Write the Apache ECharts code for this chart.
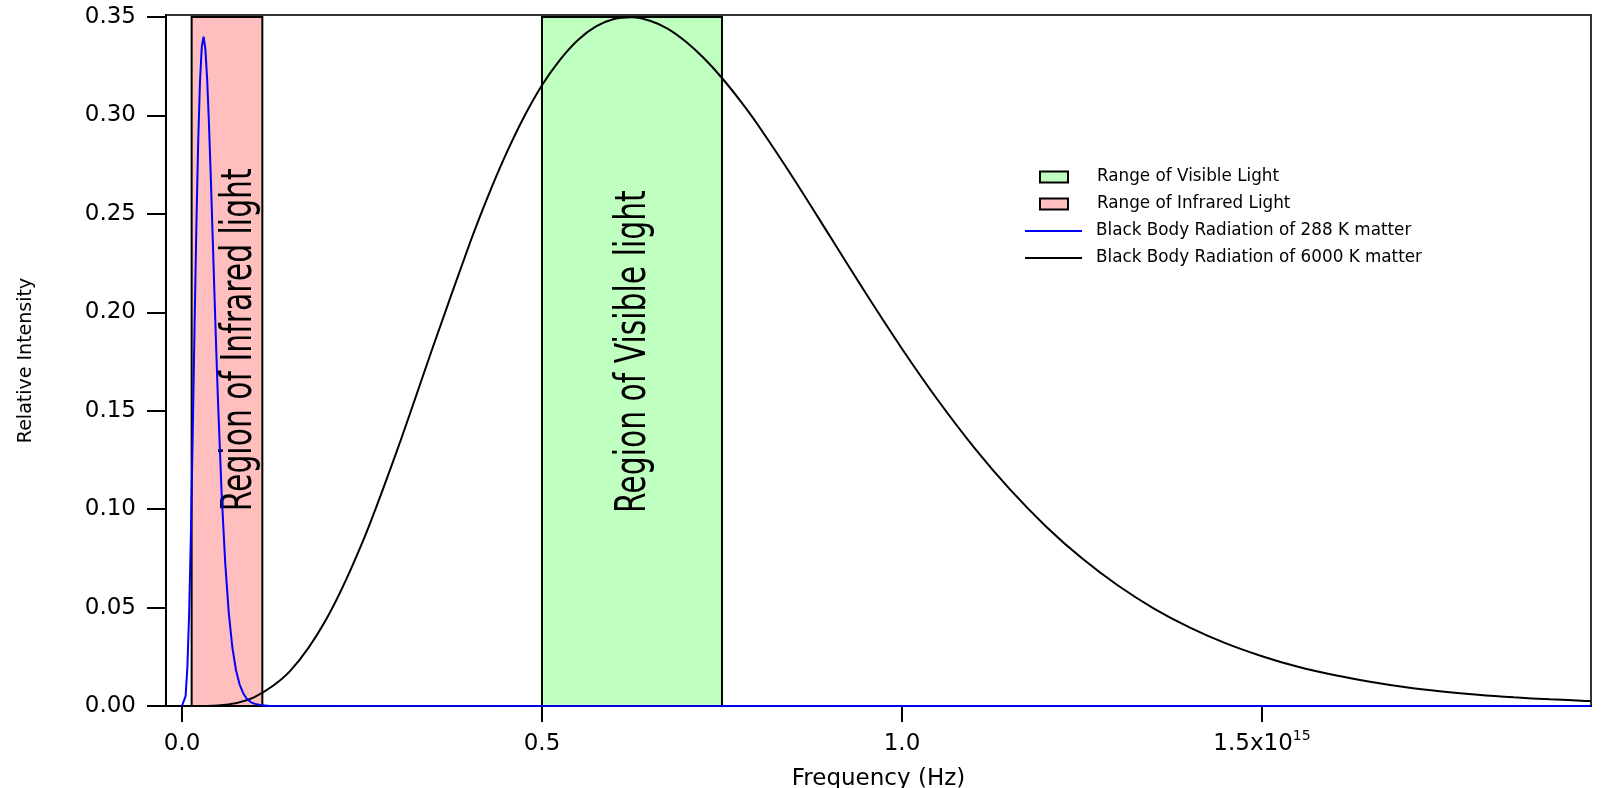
<!DOCTYPE html>
<html>
<head>
<meta charset="utf-8">
<title>Black Body Radiation</title>
<script src="https://cdn.jsdelivr.net/npm/echarts@6.0.0/dist/echarts.min.js"></script>
<style>
  html, body { margin: 0; padding: 0; background: #fff; }
  #chart { width: 1601px; height: 788px; }
</style>
</head>
<body>
<div id="chart"></div>
<script>
// frequency in units of 1e15 Hz, intensity relative
const freq6000 = [0.01, 0.05, 0.10, 0.15, 0.20, 0.25, 0.30, 0.35, 0.40, 0.425, 0.45, 0.475, 0.50, 0.525, 0.55, 0.575,
  0.60, 0.625, 0.65, 0.675, 0.70, 0.725, 0.75, 0.775, 0.80, 0.85, 0.90, 0.95, 1.00, 1.05, 1.10, 1.15, 1.20,
  1.25, 1.30, 1.35, 1.40, 1.45, 1.50, 1.55, 1.60, 1.65, 1.70, 1.75, 1.80, 1.85, 1.90, 1.95, 1.957];
const intensity6000 = [0, 0.0003, 0.0044, 0.0177, 0.0438, 0.0826, 0.1311, 0.1839, 0.2353, 0.2589, 0.2803, 0.2992, 0.3153, 0.3282, 0.3383, 0.3452,
  0.3490, 0.3499, 0.3481, 0.3440, 0.3374, 0.3290, 0.3190, 0.3076, 0.2951, 0.2676, 0.2386, 0.2095, 0.1815, 0.1553, 0.1314, 0.1100, 0.0912,
  0.0750, 0.0612, 0.0495, 0.0398, 0.0318, 0.0253, 0.0199, 0.0157, 0.0123, 0.0095, 0.0074, 0.0057, 0.0044, 0.0034, 0.0026, 0.0025];

const freq288 = [0, 0.0025, 0.005, 0.0075, 0.01, 0.0125, 0.015, 0.0175, 0.02, 0.0225, 0.025, 0.0275, 0.03, 0.0325,
  0.035, 0.0375, 0.04, 0.0425, 0.045, 0.0475, 0.05, 0.055, 0.06, 0.065, 0.07, 0.075, 0.08, 0.085, 0.09, 0.095,
  0.10, 0.11, 0.12, 1.957];
const intensity288 = [0, 0.0004, 0.0050, 0.0196, 0.0480, 0.0895, 0.1400, 0.1936, 0.2441, 0.2864, 0.3172, 0.3349, 0.3400, 0.3337,
  0.3181, 0.2955, 0.2688, 0.2398, 0.2104, 0.1819, 0.1551, 0.1085, 0.0729, 0.0472, 0.0297, 0.0182, 0.0110, 0.0065, 0.0037, 0.0021,
  0.0012, 0.0004, 0.0001, 0];

const visibleRange = [0.5, 0.75];
const infraredRange = [0.0134, 0.1116];
const bandTop = 0.35;

const freqTicks = [0, 0.5, 1.0, 1.5];

const fontMain = 'DejaVu Sans';

function zip(xs, ys) {
  return xs.map((x, i) => [x, ys[i]]);
}

// band label placement: [freq, intensity] of text centre
const bandLabels = {
  'Range of Visible Light': { text: 'Region of Visible light', at: [0.6278, 0.180] },
  'Range of Infrared Light': { text: 'Region of Infrared light', at: [0.0806, 0.186] }
};

function renderBand(params, api) {
  const p0 = api.coord([api.value(0), api.value(2)]);
  const p1 = api.coord([api.value(1), 0]);
  const lab = bandLabels[params.seriesName];
  const pt = api.coord(lab.at);
  return {
    type: 'group',
    children: [
      {
        type: 'rect',
        shape: { x: p0[0], y: p0[1], width: p1[0] - p0[0], height: p1[1] - p0[1] },
        style: { fill: api.visual('color'), stroke: '#000', lineWidth: 2 }
      },
      {
        // narrow lettering: squeeze along the baseline
        type: 'text',
        x: pt[0],
        y: pt[1],
        rotation: Math.PI / 2,
        scaleX: 0.71,
        style: {
          text: lab.text,
          fill: '#000',
          font: '42px ' + fontMain,
          align: 'center',
          verticalAlign: 'middle'
        }
      }
    ]
  };
}

const chart = echarts.init(document.getElementById('chart'));

const option = {
  animation: false,
  backgroundColor: '#fff',
  grid: {
    left: 166, right: 10, top: 15, bottom: 82,
    outerBoundsMode: 'none',
    show: true, borderColor: '#333', borderWidth: 2
  },
  legend: [
    {
      orient: 'vertical', left: 1039, top: 167, padding: 0,
      itemWidth: 28, itemHeight: 11, itemGap: 7,
      selectedMode: false,
      icon: 'rect',
      textStyle: { fontFamily: fontMain, fontSize: 16.8, color: '#000', lineHeight: 20, padding: [0, 0, 0, 24] },
      data: [
        { name: 'Range of Visible Light', itemStyle: { color: '#bfffbf', borderColor: '#000', borderWidth: 2 } },
        { name: 'Range of Infrared Light', itemStyle: { color: '#ffbfbf', borderColor: '#000', borderWidth: 2 } }
      ]
    },
    {
      orient: 'vertical', left: 1025, top: 221, padding: 0,
      itemWidth: 57, itemHeight: 2, itemGap: 7,
      selectedMode: false,
      icon: 'rect',
      textStyle: { fontFamily: fontMain, fontSize: 16.8, color: '#000', lineHeight: 20, padding: [0, 0, 0, 9] },
      data: [
        { name: 'Black Body Radiation of 288 K matter', icon: 'rect', itemStyle: { color: '#0000ff' } },
        { name: 'Black Body Radiation of 6000 K matter', icon: 'rect', itemStyle: { color: '#000' } }
      ]
    }
  ],
  xAxis: {
    type: 'value',
    min: -0.0222,
    max: 1.957,
    name: 'Frequency (Hz)',
    nameLocation: 'middle',
    nameGap: 62,
    nameTextStyle: { fontFamily: fontMain, fontSize: 23, color: '#000' },
    axisLine: { onZero: false, lineStyle: { color: '#000', width: 2 } },
    axisTick: { customValues: freqTicks, length: 16, lineStyle: { color: '#000', width: 2 } },
    axisLabel: {
      customValues: freqTicks,
      margin: 23,
      color: '#000',
      fontFamily: fontMain,
      fontSize: 23,
      lineHeight: 30,
      formatter: v => (v === 1.5 ? '1.5x10{sup|15}' : v.toFixed(1)),
      rich: {
        sup: { fontFamily: fontMain, fontSize: 14, lineHeight: 14, color: '#000', verticalAlign: 'top' }
      }
    },
    splitLine: { show: false }
  },
  yAxis: {
    type: 'value',
    min: 0,
    max: 0.351,
    interval: 0.05,
    name: 'Relative Intensity',
    nameLocation: 'middle',
    nameGap: 130,
    nameRotate: 90,
    nameTextStyle: { fontFamily: fontMain, fontSize: 19, color: '#000' },
    axisLine: { show: true, onZero: false, lineStyle: { color: '#000', width: 2 } },
    axisTick: { show: true, length: 19, lineStyle: { color: '#000', width: 2 } },
    axisLabel: {
      margin: 30,
      color: '#000',
      fontFamily: fontMain,
      fontSize: 23,
      formatter: v => v.toFixed(2)
    },
    splitLine: { show: false }
  },
  series: [
    {
      name: 'Range of Visible Light',
      type: 'custom',
      renderItem: renderBand,
      itemStyle: { color: '#bfffbf' },
      encode: { x: [0, 1], y: 2 },
      data: [[visibleRange[0], visibleRange[1], bandTop]],
      z: 1
    },
    {
      name: 'Range of Infrared Light',
      type: 'custom',
      renderItem: renderBand,
      itemStyle: { color: '#ffbfbf' },
      encode: { x: [0, 1], y: 2 },
      data: [[infraredRange[0], infraredRange[1], bandTop]],
      z: 1
    },
    {
      name: 'Black Body Radiation of 6000 K matter',
      type: 'line',
      symbol: 'none',
      smooth: 0.3,
      lineStyle: { color: '#000', width: 2 },
      itemStyle: { color: '#000' },
      data: zip(freq6000, intensity6000),
      z: 3
    },
    {
      name: 'Black Body Radiation of 288 K matter',
      type: 'line',
      symbol: 'none',
      lineStyle: { color: '#0000ff', width: 2 },
      itemStyle: { color: '#0000ff' },
      data: zip(freq288, intensity288),
      z: 4
    }
  ]
};

chart.setOption(option);
</script>
</body>
</html>
